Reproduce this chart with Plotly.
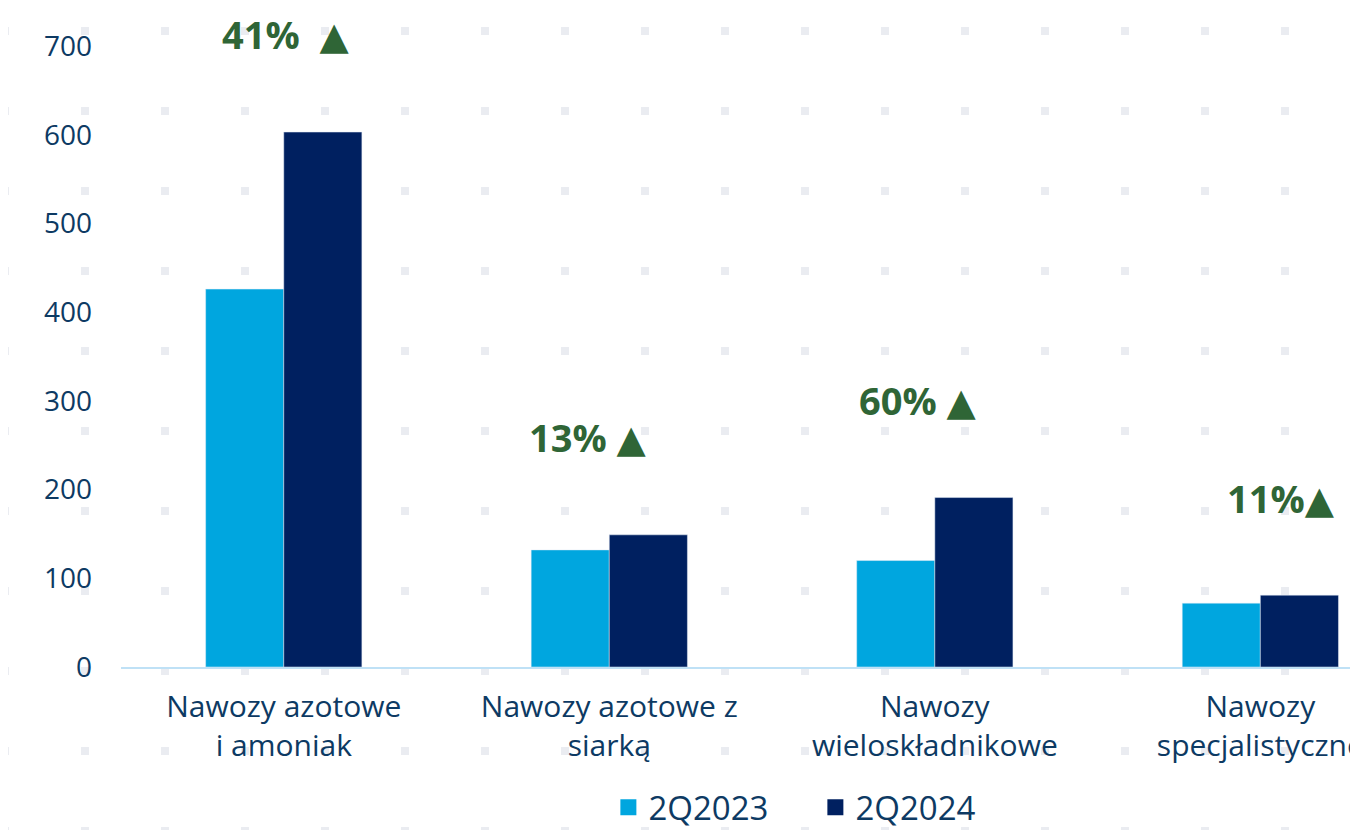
import plotly.graph_objects as go

# dane
categories = ["Nawozy azotowe<br>i amoniak", "Nawozy azotowe z<br>siarką",
              "Nawozy<br>wieloskładnikowe", "Nawozy<br>specjalistyczne"]
q2023 = [426, 132, 120, 72]
q2024 = [603, 149, 191, 81]
changes = ["41%  ▲", "13% ▲", "60% ▲", "11%▲"]
label_shift = [2, -21, -17, 21]

C_LIGHT = "#00a6df"
C_DARK = "#002060"
C_TEXT = "#0d3a63"
C_GREEN = "#2f6536"
FONT = "Open Sans, DejaVu Sans, sans-serif"
YMAX = 700

# strona ma 8 px marginesu body, więc figura jest o tyle mniejsza
FW, FH = 1350, 822
L, T, W, H = 113, 38, 1237, 621

fig = go.Figure()
fig.add_trace(go.Bar(x=categories, y=q2023, name="2Q2023", marker_color=C_LIGHT, showlegend=False))
fig.add_trace(go.Bar(x=categories, y=q2024, name="2Q2024", marker_color=C_DARK, showlegend=False))

# wpisy legendy z większymi kwadratami
for name, col in [("2Q2023", C_LIGHT), ("2Q2024", C_DARK)]:
    fig.add_trace(go.Scatter(x=[None], y=[None], mode="markers", name=name,
                             marker=dict(symbol="square", size=16, color=col)))

# etykiety zmian r/r (nad słupkami)
for cat, a, b, txt, dx in zip(categories, q2023, q2024, changes, label_shift):
    fig.add_annotation(x=cat, yref="paper", y=(max(a, b) + 110) / YMAX, text=txt,
                       showarrow=False, xshift=dx, yanchor="middle",
                       font=dict(family=FONT, size=38, color=C_GREEN, weight="bold"))

# tło w kropki
for i in range(18):
    for j in range(11):
        px, py = -3 + 80 * i, 23 + 80 * j
        fig.add_shape(type="rect", xref="paper", yref="paper", layer="below",
                      x0=(px - 4 - L) / W, x1=(px + 4 - L) / W,
                      y0=(T + H - py - 4) / H, y1=(T + H - py + 4) / H,
                      fillcolor="#eaecf1", line_width=0)

fig.update_layout(
    width=FW, height=FH,
    margin=dict(l=L, r=FW - L - W, t=T, b=FH - T - H, autoexpand=False),
    paper_bgcolor="white", plot_bgcolor="rgba(0,0,0,0)",
    barmode="group", bargap=0.52, bargroupgap=0,
    font=dict(family=FONT, color=C_TEXT),
    legend=dict(orientation="h", x=0.394, y=-0.226, xanchor="left", yanchor="middle",
                font=dict(size=33, color=C_TEXT), itemwidth=30, entrywidth=162,
                bgcolor="rgba(0,0,0,0)"),
    xaxis=dict(range=[-0.5, 3.3], showline=True, linecolor="#bfe1f6", linewidth=2,
               showgrid=False, automargin=False,
               tickfont=dict(size=30, color=C_TEXT), ticklabelstandoff=12),
    yaxis=dict(range=[0, YMAX], dtick=100, showgrid=False, zeroline=False, automargin=False,
               tickfont=dict(size=28, color=C_TEXT), ticklabelstandoff=28),
)

fig.write_html("out.html")
